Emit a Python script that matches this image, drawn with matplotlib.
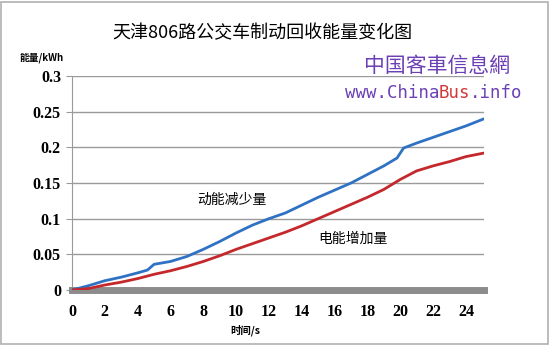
import matplotlib
matplotlib.use("Agg")
import matplotlib.pyplot as plt
from matplotlib.patches import Rectangle

# time (s) and energy (kWh)
t_blue = [0, 1, 2, 3, 4, 4.6, 5, 6, 7, 8, 9, 10, 11, 12, 13, 14, 15, 16, 17,
          18, 19, 19.8, 20.2, 21, 22, 23, 24, 25.1]
kinetic_drop = [0, 0.006, 0.013, 0.018, 0.024, 0.028, 0.036, 0.040, 0.047, 0.057,
                0.068, 0.080, 0.091, 0.100, 0.108, 0.119, 0.130, 0.140, 0.150,
                0.162, 0.174, 0.185, 0.199, 0.206, 0.214, 0.222, 0.230, 0.240]
t_red = [0, 1, 2, 3, 4, 5, 6, 7, 8, 9, 10, 11, 12, 13, 14, 15, 16, 17, 18, 19,
         20, 21, 22, 23, 24, 25.1]
electric_gain = [0, 0.002, 0.007, 0.011, 0.016, 0.022, 0.027, 0.033, 0.040, 0.048,
                 0.057, 0.065, 0.073, 0.081, 0.090, 0.100, 0.110, 0.120, 0.130,
                 0.141, 0.155, 0.167, 0.174, 0.180, 0.187, 0.192]
x_ticks = list(range(0, 25, 2))
y_ticks = [0, 0.05, 0.1, 0.15, 0.2, 0.25, 0.3]
y_labels = ["0", "0.05", "0.1", "0.15", "0.2", "0.25", "0.3"]

cjk = ["Noto Sans CJK SC", "DejaVu Sans"]
num_font = "Liberation Serif"

fig = plt.figure(figsize=(5.5, 3.49), dpi=100)
ax = fig.add_axes([72 / 550, 1 - 290 / 349, 412 / 550, 214 / 349])

ax.plot(t_blue, kinetic_drop, color="#2f72c4", lw=2.0, zorder=3)
ax.plot(t_red, electric_gain, color="#c4282c", lw=2.0, zorder=3)

ax.set_xlim(0, 25.1)
ax.set_ylim(0, 0.3)
ax.set_yticks(y_ticks)
ax.set_yticklabels(y_labels, fontfamily=num_font, fontweight="bold", fontsize=11.5)
ax.set_xticks(x_ticks)
ax.set_xticklabels([str(v) for v in x_ticks], fontfamily=num_font,
                   fontweight="bold", fontsize=11.5)
ax.grid(axis="y", color="#9a9a9a", lw=1)
ax.set_axisbelow(True)

for s in ["top", "right"]:
    ax.spines[s].set_visible(False)
ax.spines["left"].set_color("#9a9a9a")
ax.spines["bottom"].set_color("#8c8c8c")
ax.spines["bottom"].set_linewidth(5)
ax.tick_params(axis="y", length=4, color="#9a9a9a", pad=4)
ax.tick_params(axis="x", length=0, pad=10)
ax.set_xticks([v * 0.5 for v in range(1, 51)], minor=True)
ax.tick_params(axis="x", which="minor", length=3, direction="inout", color="white", width=0.6)

ax.text(9.75, 0.127, "动能减少量", family=cjk, fontsize=10, ha="center", va="center")
ax.text(17.1, 0.072, "电能增加量", family=cjk, fontsize=10, ha="center", va="center")

fig.text(262 / 550, 1 - 33 / 349, "天津806路公交车制动回收能量变化图", family=cjk,
         fontsize=13, ha="center", va="center")
fig.text(42 / 550, 1 - 58 / 349, "能量/kWh", family=cjk, fontsize=7,
         fontweight="bold", ha="center", va="center")
fig.text(245 / 550, 1 - 330 / 349, "时间/s", family=cjk, fontsize=7.5,
         fontweight="bold", ha="center", va="center")

# watermark
fig.text(437 / 550, 1 - 66 / 349, "中国客車信息網", family=cjk, fontsize=15,
         color="#6b3fb5", ha="center", va="center")
fig.text(345 / 550, 1 - 93 / 349, "www.China", family="DejaVu Sans Mono",
         fontsize=12.5, color="#6b3fb5", ha="left", va="center")
fig.text(439 / 550, 1 - 93 / 349, "Bus", family="DejaVu Sans Mono",
         fontsize=12.5, color="#d23a3a", ha="left", va="center")
fig.text(470 / 550, 1 - 93 / 349, ".info", family="DejaVu Sans Mono",
         fontsize=12.5, color="#6b3fb5", ha="left", va="center")

fig.patches.append(Rectangle((0.002, 1 - 344 / 349), 0.994, 342 / 349,
                             transform=fig.transFigure, fill=False,
                             edgecolor="#b0b0b0", lw=1.2))

fig.savefig("out.png", dpi=100)
